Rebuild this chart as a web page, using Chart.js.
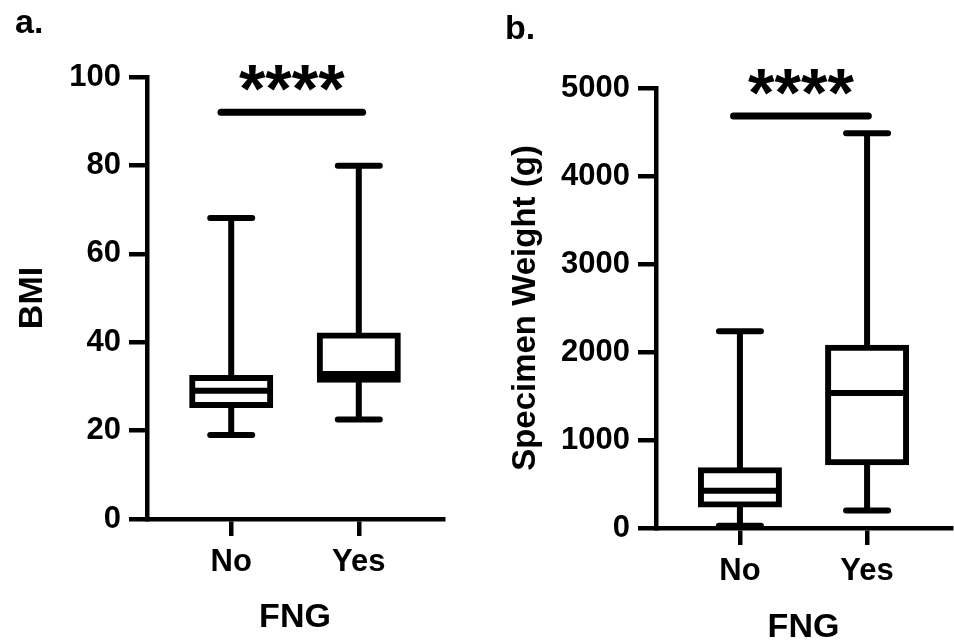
<!DOCTYPE html>
<html>
<head>
<meta charset="utf-8">
<script src="https://cdn.jsdelivr.net/npm/chart.js@4.4.1/dist/chart.umd.min.js"></script>
<style>
  html, body { margin: 0; padding: 0; background: #fff; }
  body { width: 954px; height: 643px; position: relative; overflow: hidden; font-family: "Liberation Sans", Arial, sans-serif; }
  .panel { position: absolute; top: 0; height: 643px; }
  #panelA { left: 0; width: 480px; }
  #panelB { left: 480px; width: 474px; }
  .tag { position: absolute; font-weight: bold; font-size: 34px; line-height: 34px; color: #000; }
</style>
</head>
<body>
<div class="panel" id="panelA"><canvas id="chartA"></canvas></div>
<div class="panel" id="panelB"><canvas id="chartB"></canvas></div>
<div class="tag" style="left:15px; top:4px;">a.</div>
<div class="tag" style="left:505px; top:10px;">b.</div>
<script>
// groups on the x axis
const fngGroups = ['No', 'Yes'];

// a. BMI box plot (min, Q1, median, Q3, max)
const bmiMin = [19.0, 22.5];
const bmiQ1 = [25.8, 31.5];
const bmiMedian = [29.0, 32.8];
const bmiQ3 = [31.9, 41.5];
const bmiMax = [68.1, 79.9];
const bmiTicks = [0, 20, 40, 60, 80, 100];
const bmiSig = { y: 92, from: -0.08, to: 1.03, text: '****' };

// b. specimen weight (g)
const weightMin = [25, 199];
const weightQ1 = [266, 748];
const weightMedian = [422, 1534];
const weightQ3 = [655, 2048];
const weightMax = [2235, 4485];
const weightTicks = [0, 1000, 2000, 3000, 4000, 5000];
const weightSig = { y: 4682, from: -0.05, to: 1.01, text: '****' };

const FONT = '"Liberation Sans", Arial, Helvetica, sans-serif';
Chart.defaults.font.family = FONT;
Chart.defaults.color = '#000';

// whiskers, caps, medians and the significance bar
const boxExtras = {
    id: 'boxExtras',
    afterDatasetsDraw(chart, args, opts) {
        const xs = chart.scales.x, ys = chart.scales.y;
        const ctx = chart.ctx;
        ctx.save();
        ctx.strokeStyle = '#000';
        ctx.lineWidth = 6;
        opts.median.forEach((m, i) => {
            const px = xs.getPixelForValue(i);
            ctx.lineCap = 'butt';
            ctx.beginPath();
            ctx.moveTo(px, ys.getPixelForValue(opts.q3[i]));
            ctx.lineTo(px, ys.getPixelForValue(opts.max[i]));
            ctx.moveTo(px, ys.getPixelForValue(opts.q1[i]));
            ctx.lineTo(px, ys.getPixelForValue(opts.min[i]));
            ctx.stroke();

            ctx.lineCap = 'round';
            ctx.beginPath();
            [opts.max[i], opts.min[i]].forEach(v => {
                const py = ys.getPixelForValue(v);
                ctx.moveTo(px - opts.capHalf, py);
                ctx.lineTo(px + opts.capHalf, py);
            });
            ctx.stroke();

            ctx.lineCap = 'butt';
            const pm = ys.getPixelForValue(m);
            ctx.beginPath();
            ctx.moveTo(px - opts.boxHalf, pm);
            ctx.lineTo(px + opts.boxHalf, pm);
            ctx.stroke();
        });

        // significance bar + stars
        const sig = opts.sig;
        const sy = ys.getPixelForValue(sig.y);
        const x0 = xs.getPixelForValue(sig.from), x1 = xs.getPixelForValue(sig.to);
        ctx.lineWidth = 7;
        ctx.lineCap = 'round';
        ctx.beginPath();
        ctx.moveTo(x0, sy);
        ctx.lineTo(x1, sy);
        ctx.stroke();
        ctx.fillStyle = '#000';
        ctx.font = 'bold 68px ' + FONT;
        ctx.textAlign = 'center';
        ctx.textBaseline = 'alphabetic';
        ctx.fillText(sig.text, (x0 + x1) / 2, sy + opts.starOffset);
        ctx.restore();
    }
};

function makeBoxChart(id, cfg) {
    const ctx = document.getElementById(id).getContext('2d');
    return new Chart(ctx, {
        type: 'bar',
        data: {
            datasets: [{
                data: fngGroups.map((g, i) => ({ x: i, y: [cfg.q1[i], cfg.q3[i]] })),
                backgroundColor: '#fff',
                borderColor: '#000',
                borderWidth: 6,
                borderSkipped: false,
                inflateAmount: 3,
                barThickness: 78
            }]
        },
        options: {
            responsive: true,
            maintainAspectRatio: false,
            animation: false,
            layout: { padding: cfg.padding },
            plugins: {
                legend: { display: false },
                tooltip: { enabled: false },
                boxExtras: {
                    min: cfg.min, q1: cfg.q1, median: cfg.median, q3: cfg.q3, max: cfg.max,
                    sig: cfg.sig, boxHalf: 39, capHalf: 21, starOffset: 0
                }
            },
            scales: {
                x: {
                    type: 'linear',
                    offset: false,
                    min: -0.66,
                    max: 1.66,
                    afterBuildTicks: scale => { scale.ticks = fngGroups.map((g, i) => ({ value: i })); },
                    afterFit: scale => { scale.height = cfg.xHeight; },
                    border: { display: true, color: '#000', width: 4.5 },
                    grid: { offset: false, drawOnChartArea: false, drawTicks: true, tickLength: 17, color: '#000', lineWidth: 4.5 },
                    ticks: {
                        padding: 8,
                        font: { size: 31, weight: 'bold' },
                        color: '#000',
                        callback: v => fngGroups[v]
                    },
                    title: {
                        display: true, text: 'FNG', color: '#000',
                        font: { size: 34, weight: 'bold', lineHeight: 1.1 },
                        padding: { top: 0, bottom: cfg.xTitlePad }
                    }
                },
                y: {
                    min: cfg.ticks[0],
                    max: cfg.ticks[cfg.ticks.length - 1],
                    afterBuildTicks: scale => { scale.ticks = cfg.ticks.map(v => ({ value: v })); },
                    afterFit: scale => { scale.width = cfg.yWidth; },
                    border: { display: true, color: '#000', width: 4.5 },
                    grid: { drawOnChartArea: false, drawTicks: true, tickLength: 18, color: '#000', lineWidth: 4.5 },
                    ticks: {
                        padding: 8,
                        font: { size: 31, weight: 'bold' },
                        color: '#000',
                        callback: v => String(v)
                    },
                    title: {
                        display: true, text: cfg.yTitle, color: '#000',
                        font: { size: cfg.yTitleSize, weight: 'bold', lineHeight: 1.1 },
                        padding: { top: cfg.yTitlePad, bottom: 0 }
                    }
                }
            }
        },
        plugins: [boxExtras]
    });
}

makeBoxChart('chartA', {
    min: bmiMin, q1: bmiQ1, median: bmiMedian, q3: bmiQ3, max: bmiMax,
    ticks: bmiTicks, sig: bmiSig, yTitle: 'BMI', yTitleSize: 34, yTitlePad: 14,
    padding: { left: 0, top: 77, right: 37, bottom: 0 },
    yWidth: 147, xHeight: 124, xTitlePad: 7
});

makeBoxChart('chartB', {
    min: weightMin, q1: weightQ1, median: weightMedian, q3: weightQ3, max: weightMax,
    ticks: weightTicks, sig: weightSig, yTitle: 'Specimen Weight (g)', yTitleSize: 33, yTitlePad: 28,
    padding: { left: 0, top: 88, right: 3, bottom: 0 },
    yWidth: 176, xHeight: 115, xTitlePad: -3
});
</script>
</body>
</html>
